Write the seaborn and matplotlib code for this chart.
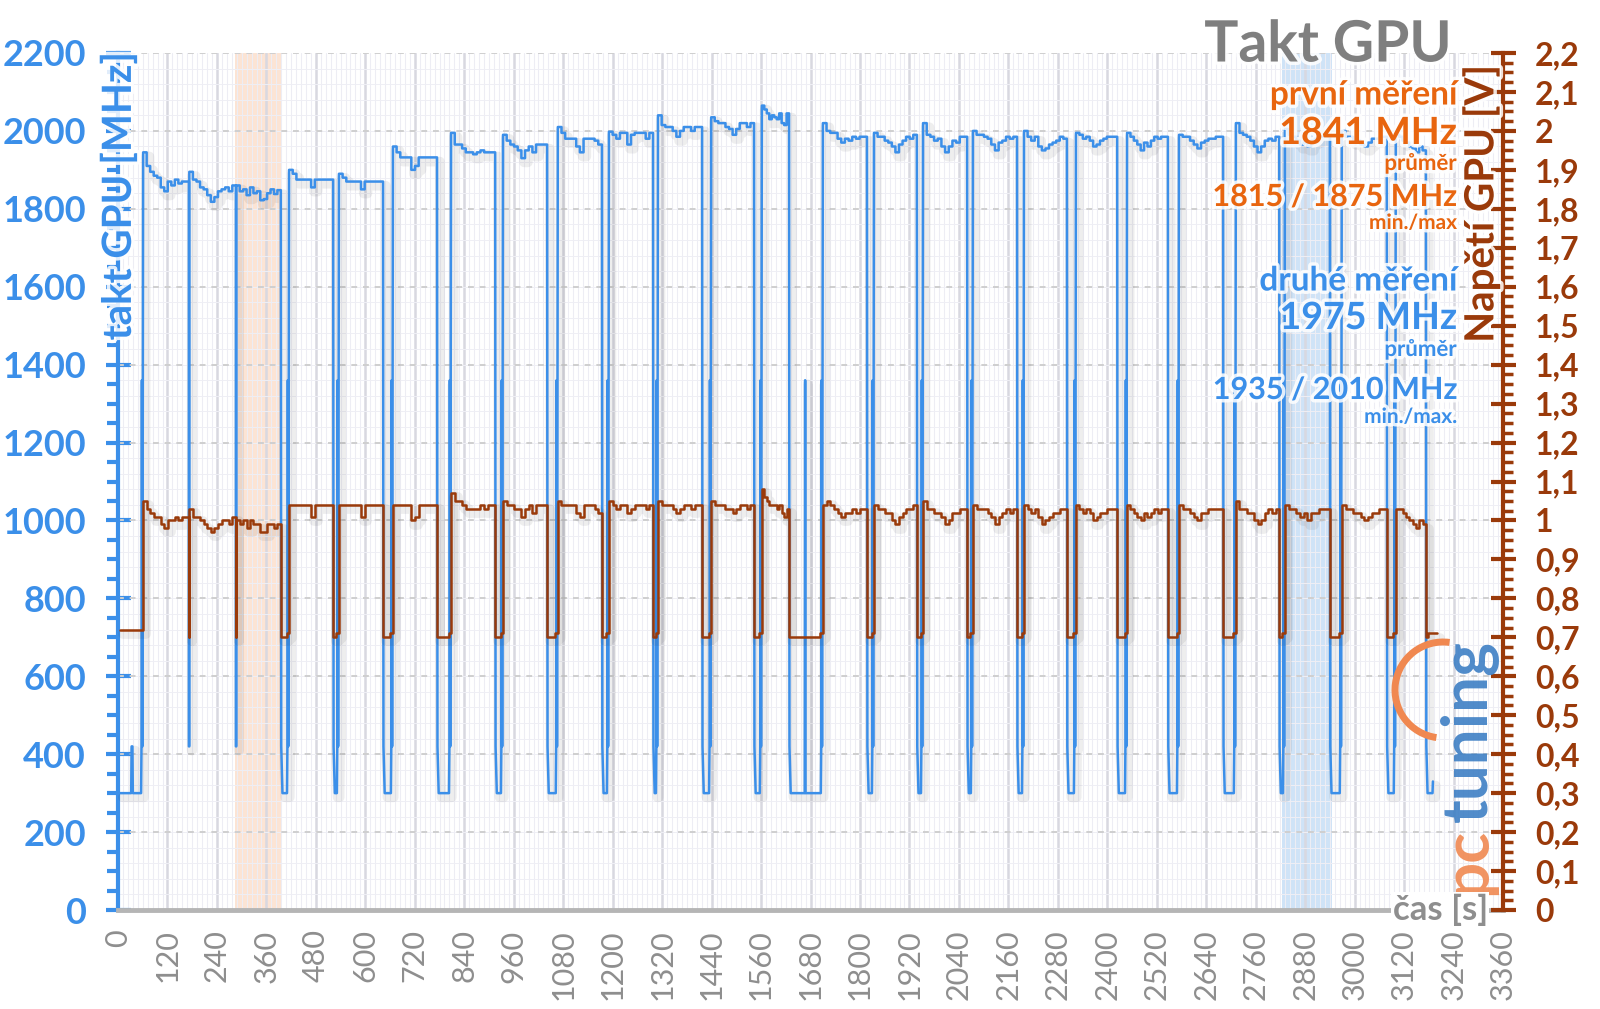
import numpy as np
import pandas as pd
import seaborn as sns
import matplotlib.pyplot as plt
from matplotlib import ticker, patches
from matplotlib import patheffects as pe

# --- data ---
run_start = [61, 173, 287, 415, 536, 667, 808, 934, 1067, 1191, 1310, 1439, 1562,
             1710, 1834, 1953, 2074, 2198, 2324, 2448, 2574, 2712, 2831, 2969, 3100]
run_end = [172, 286, 395, 522, 643, 774, 915, 1041, 1174, 1298, 1417, 1543, 1628,
           1817, 1938, 2060, 2181, 2302, 2424, 2547, 2681, 2817, 2940, 3078, 3173]

run_clock = [
    [1945, 1910, 1895, 1885, 1880, 1855, 1845, 1870, 1860, 1875, 1865, 1870, 1870],
    [1895, 1875, 1870, 1855, 1850, 1835, 1818, 1830, 1845, 1850, 1855, 1845, 1860],
    [1860, 1845, 1850, 1835, 1855, 1840, 1845, 1822, 1825, 1840, 1850, 1838, 1848],
    [1900, 1890, 1875, 1875, 1875, 1875, 1855, 1875, 1875, 1875, 1875, 1875],
    [1890, 1880, 1870, 1870, 1870, 1870, 1850, 1870, 1870, 1870, 1870, 1870],
    [1960, 1945, 1932, 1932, 1932, 1900, 1910, 1932, 1932, 1932, 1932, 1932],
    [1995, 1965, 1965, 1955, 1945, 1945, 1940, 1945, 1950, 1945, 1945, 1945],
    [1990, 1975, 1965, 1960, 1950, 1930, 1950, 1960, 1945, 1965, 1965, 1965],
    [2010, 1995, 1980, 1980, 1980, 1960, 1945, 1980, 1980, 1980, 1975, 1965],
    [1998, 1990, 1980, 1995, 1995, 1965, 1990, 1995, 1995, 1995, 1980, 1995],
    [2040, 2015, 2010, 2010, 2000, 1985, 2000, 2010, 2010, 2000, 2010, 2010],
    [2035, 2025, 2020, 2020, 2010, 2005, 1990, 2005, 2020, 2020, 2010, 2020],
    [2065, 2055, 2045, 2030, 2040, 2035, 2030, 2045, 2020, 2015, 2045],
    [2020, 2000, 1995, 1995, 1980, 1970, 1980, 1975, 1985, 1980, 1985, 1985],
    [1995, 1985, 1985, 1975, 1970, 1960, 1945, 1965, 1975, 1985, 1980, 1990],
    [2020, 1990, 1985, 1975, 1980, 1960, 1945, 1960, 1975, 1970, 1985, 1985],
    [2000, 1990, 1990, 1985, 1980, 1965, 1950, 1970, 1975, 1985, 1980, 1985],
    [2000, 1985, 1975, 1985, 1960, 1950, 1955, 1965, 1970, 1975, 1985, 1980],
    [1995, 1990, 1980, 1985, 1975, 1960, 1965, 1975, 1980, 1985, 1985, 1985],
    [1995, 1985, 1975, 1965, 1950, 1970, 1960, 1975, 1985, 1980, 1985, 1985],
    [1990, 1985, 1985, 1975, 1965, 1955, 1970, 1975, 1980, 1980, 1985, 1985],
    [2020, 1995, 1990, 1985, 1975, 1960, 1945, 1960, 1975, 1980, 1975, 1985],
    [2005, 1990, 1985, 1975, 1965, 1970, 1960, 1975, 1980, 1985, 1985, 1985],
    [2000, 1985, 1985, 1975, 1975, 1965, 1960, 1970, 1980, 1980, 1985, 1985],
    [1990, 1985, 1975, 1970, 1960, 1955, 1945, 1960, 1950],
]

run_volt = [
    [1.05, 1.03, 1.02, 1.01, 1.01, 0.99, 0.98, 1.00, 1.00, 1.01, 1.00, 1.01, 1.01],
    [1.03, 1.01, 1.01, 1.00, 0.99, 0.98, 0.97, 0.98, 0.99, 1.00, 1.00, 0.99, 1.01],
    [1.00, 0.99, 1.00, 0.98, 1.00, 0.99, 0.99, 0.97, 0.97, 0.99, 0.99, 0.98, 0.99],
    [1.04, 1.04, 1.04, 1.04, 1.04, 1.04, 1.01, 1.04, 1.04, 1.04, 1.04, 1.04],
    [1.04, 1.04, 1.04, 1.04, 1.04, 1.04, 1.01, 1.04, 1.04, 1.04, 1.04, 1.04],
    [1.04, 1.04, 1.04, 1.04, 1.04, 1.00, 1.01, 1.04, 1.04, 1.04, 1.04, 1.04],
    [1.07, 1.05, 1.05, 1.04, 1.03, 1.03, 1.03, 1.03, 1.04, 1.03, 1.04, 1.04],
    [1.05, 1.04, 1.04, 1.03, 1.03, 1.01, 1.03, 1.04, 1.02, 1.04, 1.04, 1.04],
    [1.05, 1.04, 1.04, 1.04, 1.04, 1.02, 1.01, 1.04, 1.04, 1.04, 1.03, 1.02],
    [1.05, 1.04, 1.03, 1.04, 1.04, 1.02, 1.03, 1.04, 1.04, 1.04, 1.03, 1.04],
    [1.05, 1.04, 1.04, 1.04, 1.03, 1.02, 1.03, 1.04, 1.04, 1.03, 1.04, 1.04],
    [1.05, 1.04, 1.04, 1.04, 1.03, 1.03, 1.02, 1.03, 1.04, 1.04, 1.03, 1.04],
    [1.08, 1.06, 1.05, 1.04, 1.04, 1.04, 1.03, 1.04, 1.02, 1.01, 1.03],
    [1.04, 1.05, 1.04, 1.03, 1.02, 1.01, 1.02, 1.02, 1.03, 1.02, 1.03, 1.03],
    [1.04, 1.03, 1.03, 1.02, 1.02, 1.00, 0.99, 1.01, 1.02, 1.03, 1.03, 1.04],
    [1.05, 1.03, 1.03, 1.02, 1.02, 1.01, 0.99, 1.00, 1.02, 1.02, 1.03, 1.03],
    [1.04, 1.03, 1.03, 1.03, 1.02, 1.01, 0.99, 1.01, 1.02, 1.03, 1.02, 1.03],
    [1.04, 1.03, 1.02, 1.03, 1.01, 0.99, 1.00, 1.01, 1.02, 1.02, 1.03, 1.03],
    [1.04, 1.03, 1.02, 1.03, 1.02, 1.00, 1.01, 1.02, 1.02, 1.03, 1.03, 1.03],
    [1.04, 1.03, 1.02, 1.01, 1.00, 1.02, 1.01, 1.02, 1.03, 1.02, 1.03, 1.03],
    [1.04, 1.03, 1.03, 1.02, 1.01, 1.00, 1.02, 1.02, 1.03, 1.03, 1.03, 1.03],
    [1.05, 1.03, 1.03, 1.02, 1.02, 1.00, 0.99, 1.00, 1.02, 1.03, 1.02, 1.03],
    [1.04, 1.03, 1.03, 1.02, 1.01, 1.02, 1.00, 1.02, 1.02, 1.03, 1.03, 1.03],
    [1.04, 1.03, 1.03, 1.02, 1.02, 1.01, 1.00, 1.01, 1.02, 1.02, 1.03, 1.03],
    [1.03, 1.03, 1.02, 1.01, 1.00, 0.99, 0.98, 1.00, 0.99],
]

# idle / wake-up levels between runs
idle_clock = 300
wake_clock = [420, 1360, 420]
dip_clock = 420
idle_volt = [0.70, 0.71]
idle_spike_t = [1667]
spike_clock = 1360

# before the first run and after the last one
lead_t = [5, 32, 33, 35, 36, 56, 57, 58, 59]
lead_clock = [300, 300, 420, 420, 300, 300, 420, 1360, 420]
lead_volt_t = [5, 61]
lead_volt = [0.72, 0.72]
tail_t = [3174, 3177, 3189, 3190]
tail_clock = [420, 300, 300, 330]
tail_volt_t = [3173, 3179, 3179, 3200]
tail_volt = [0.70, 0.70, 0.71, 0.71]

# highlighted windows (first / second measurement)
band_first = (283, 397)
band_second = (2824, 2945)

left_ticks = list(range(0, 2201, 200))
right_ticks = [round(0.1 * i, 1) for i in range(23)]
x_ticks = list(range(0, 3361, 120))

BLUE = '#3b8fe9'
BROWN = '#9a3a0a'
ORANGE = '#e8650f'
GRAY = '#8e8e8e'

# --- build the step series ---
ct, cv = list(lead_t), list(lead_clock)
vt, vv = list(lead_volt_t), list(lead_volt)
for i, (s, e) in enumerate(zip(run_start, run_end)):
    c = run_clock[i]
    edges = np.linspace(s, e, len(c) + 1)
    for k, val in enumerate(c):
        ct += [edges[k], edges[k + 1]]
        cv += [val, val]
    v = run_volt[i]
    edges = np.linspace(s, e, len(v) + 1)
    for k, val in enumerate(v):
        vt += [edges[k], edges[k + 1]]
        vv += [val, val]
    if i + 1 == len(run_start):
        break
    ns = run_start[i + 1]
    if ns - e < 5:
        ct += [e, e + 1]
        cv += [dip_clock, dip_clock]
        vt += [e, e + 1]
        vv += [idle_volt[0], idle_volt[0]]
    else:
        ct += [e + 1, e + 4]
        cv += [wake_clock[0], idle_clock]
        for sp in idle_spike_t:
            if e < sp < ns:
                ct += [sp - 1, sp, sp + 1]
                cv += [idle_clock, spike_clock, idle_clock]
        ct += [ns - 5, ns - 4, ns - 3, ns - 2]
        cv += [idle_clock] + wake_clock
        vt += [e, ns - 6, ns - 6, ns]
        vv += [idle_volt[0], idle_volt[0], idle_volt[1], idle_volt[1]]
ct += tail_t
cv += tail_clock
vt += tail_volt_t
vv += tail_volt

clock_df = pd.DataFrame({'cas': ct, 'mhz': cv})
volt_df = pd.DataFrame({'cas': vt, 'volt': vv})

# --- plot ---
sns.set_theme(style='white')
plt.rcParams['font.family'] = ['Lato', 'DejaVu Sans']

fig = plt.figure(figsize=(16, 10.09), dpi=100)
ax = fig.add_axes([118 / 1600, 1 - 910 / 1009, (1503 - 118) / 1600, (910 - 53) / 1009])
ax2 = ax.twinx()

ax.axvspan(*band_first, color='#fbdcc6', alpha=0.75, lw=0, zorder=0)
ax.axvspan(*band_second, color='#c4ddf6', alpha=0.8, lw=0, zorder=0)

shadow = [pe.SimpleLineShadow(offset=(2, -3), shadow_color='k', alpha=0.07, linewidth=7), pe.Normal()]
sns.lineplot(data=clock_df, x='cas', y='mhz', ax=ax, sort=False, estimator=None,
             color=BLUE, linewidth=1.8, zorder=3)
ax.lines[-1].set_path_effects(shadow)
sns.lineplot(data=volt_df, x='cas', y='volt', ax=ax2, sort=False, estimator=None,
             color=BROWN, linewidth=1.8, zorder=3)
ax2.lines[-1].set_path_effects(shadow)

ax.set_xlim(0, 3360)
ax.set_ylim(0, 2200)
ax2.set_ylim(0, 2.2)
ax.set_xlabel('')
ax.set_ylabel('')
ax2.set_ylabel('')

# grid
ax.xaxis.set_major_locator(ticker.FixedLocator(x_ticks))
ax.xaxis.set_minor_locator(ticker.MultipleLocator(12))
ax.yaxis.set_major_locator(ticker.FixedLocator(left_ticks))
ax.yaxis.set_minor_locator(ticker.MultipleLocator(50))
ax.grid(False)
for x in range(0, 3361, 12):
    ax.axvline(x, color='#ededf4' if x % 120 else '#d8d8e0', lw=0.8 if x % 120 else 1.8, zorder=0.5)
for y in range(40, 2200, 40):
    ax.axhline(y, color='#efeff5', lw=0.7, zorder=0.5)
for y in left_ticks[1:]:
    ax.axhline(y, color='#cfcfcf', lw=1.4, ls=(0, (3, 3)), zorder=0.6)

# spines
for side in ['top']:
    ax.spines[side].set_visible(False)
    ax2.spines[side].set_visible(False)
ax2.spines['left'].set_visible(False)
ax2.spines['bottom'].set_visible(False)
ax.spines['right'].set_visible(False)
ax.spines['left'].set_color(BLUE)
ax.spines['left'].set_linewidth(3)
ax.spines['bottom'].set_color('#b5b5b5')
ax.spines['bottom'].set_linewidth(3.5)
ax2.spines['right'].set_color(BROWN)
ax2.spines['right'].set_linewidth(3)

ax.tick_params(axis='y', which='major', direction='inout', length=18, width=3,
               color=BLUE, labelcolor=BLUE, labelsize=26, pad=14)
ax.tick_params(axis='y', which='minor', direction='out', length=8, width=3, color=BLUE)
ax.tick_params(axis='x', which='major', direction='out', length=8, width=3,
               color='#b5b5b5', labelcolor=GRAY, labelsize=22, labelrotation=90, pad=6)
ax.tick_params(axis='x', which='minor', length=0)
for lab in ax.get_yticklabels():
    lab.set_fontweight('bold')

ax2.yaxis.set_major_locator(ticker.FixedLocator(right_ticks))
ax2.yaxis.set_minor_locator(ticker.MultipleLocator(0.025))
ax2.yaxis.set_major_formatter(ticker.FuncFormatter(lambda v, p: f'{v:g}'.replace('.', ',')))
ax2.tick_params(axis='y', which='major', direction='inout', length=18, width=3,
                color=BROWN, labelcolor=BROWN, labelsize=23, pad=14)
ax2.tick_params(axis='y', which='minor', direction='out', length=7, width=2.5, color=BROWN)
for lab in ax2.get_yticklabels():
    lab.set_fontweight('bold')

# axis titles
glow = [pe.withStroke(linewidth=5, foreground='white', alpha=0.85)]
fig.text(119 / 1600, 1 - 52 / 1009, 'takt GPU [MHz]', rotation=90, ha='center', va='top',
         color=BLUE, fontsize=29, fontweight='bold', path_effects=glow, zorder=10)
fig.text(1481 / 1600, 1 - 65 / 1009, 'Napětí GPU [V]', rotation=90, ha='center', va='top',
         color=BROWN, fontsize=29, fontweight='bold', path_effects=glow, zorder=10)
fig.text(1488 / 1600, 1 - 910 / 1009, 'čas [s]', ha='right', va='center', color=GRAY,
         fontsize=25, fontweight='bold', zorder=10,
         bbox=dict(facecolor='white', edgecolor='none', pad=1))

# title and summary annotations
fig.text(1452 / 1600, 1 - 45 / 1009, 'Takt GPU', ha='right', va='center', color='#7f7f7f',
         fontsize=41, fontweight='bold', path_effects=glow)
notes = [
    ('první měření', 95, 24, ORANGE),
    ('1841 MHz', 133, 27, ORANGE),
    ('průměr', 163, 16, ORANGE),
    ('1815 / 1875 MHz', 197, 22, ORANGE),
    ('min./max', 223, 15, ORANGE),
    ('druhé měření', 281, 24, BLUE),
    ('1975 MHz', 318, 27, BLUE),
    ('průměr', 349, 16, BLUE),
    ('1935 / 2010 MHz', 390, 22, BLUE),
    ('min./max.', 417, 15, BLUE),
]
for txt, ypix, size, col in notes:
    fig.text(1457 / 1600, 1 - ypix / 1009, txt, ha='right', va='center', color=col,
             fontsize=size, fontweight='bold', path_effects=glow, zorder=10)

# pctuning watermark
fig.text(1468 / 1600, 1 - 895 / 1009, 'pc', rotation=90, ha='center', va='bottom',
         color='#f08850', fontsize=46, fontweight='bold', alpha=0.9)
fig.text(1468 / 1600, 1 - 822 / 1009, 'tuning', rotation=90, ha='center', va='bottom',
         color='#3d7fc4', fontsize=46, fontweight='bold', alpha=0.9)
fig.patches.append(patches.Arc((1443 / 1600, 1 - 690 / 1009), 96 / 1600, 96 / 1009,
                               theta1=85, theta2=265, color='#f08850', lw=5,
                               transform=fig.transFigure, figure=fig))

fig.savefig('out.png', dpi=100, facecolor='white')
